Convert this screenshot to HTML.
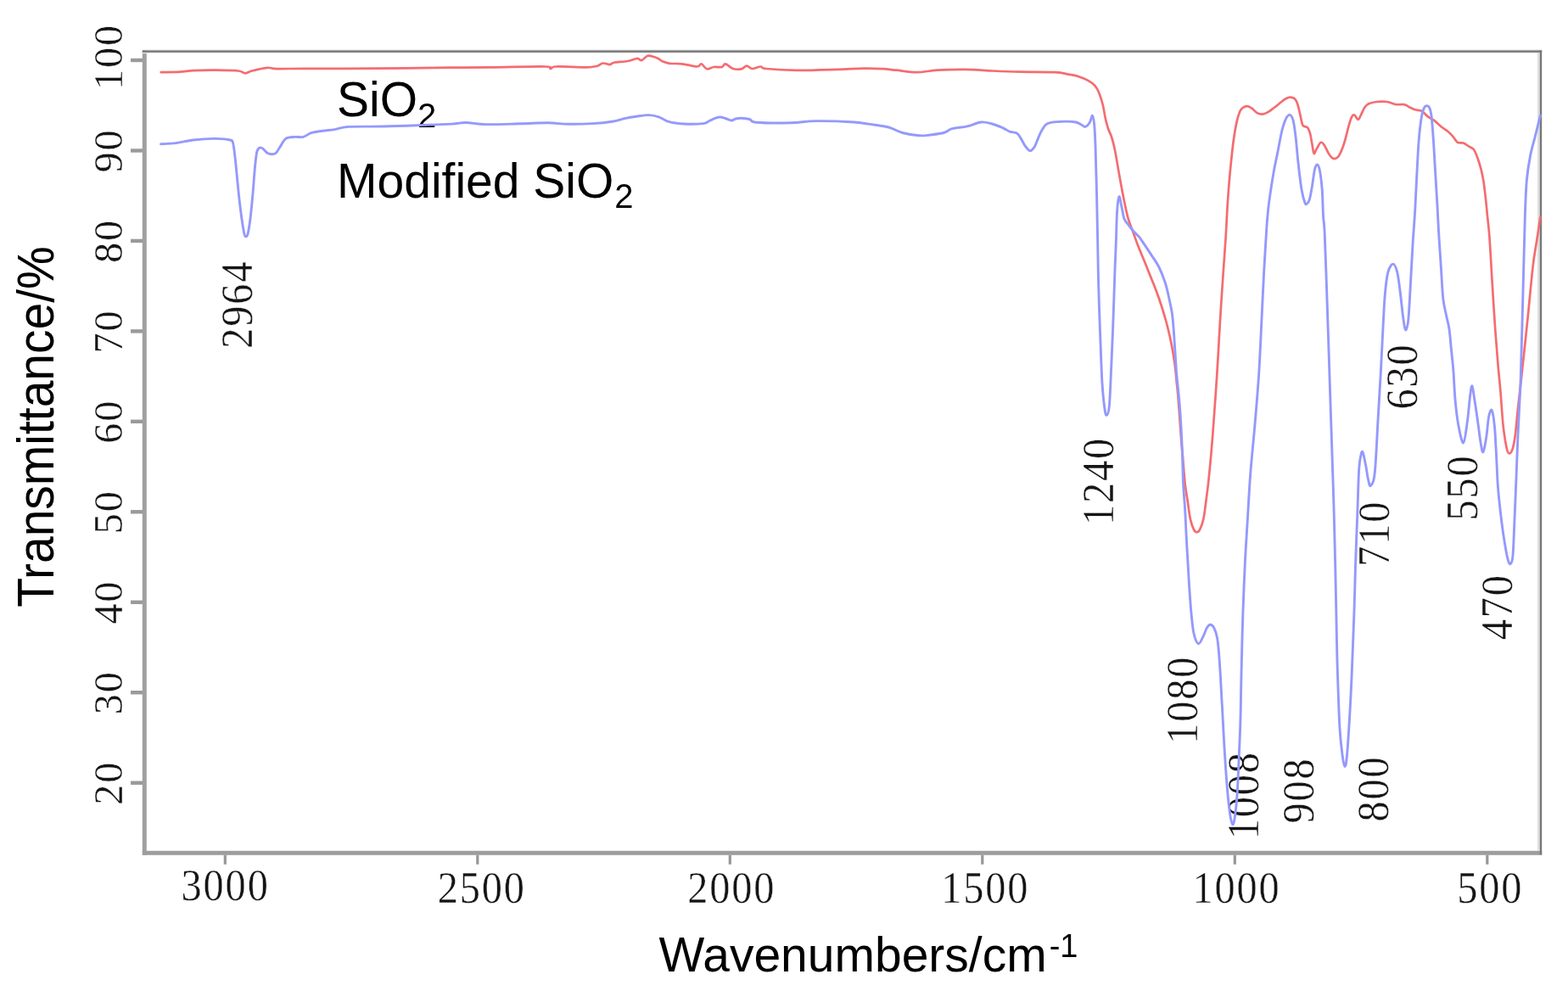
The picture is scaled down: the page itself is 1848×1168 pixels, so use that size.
<!DOCTYPE html>
<html><head><meta charset="utf-8"><title>FTIR spectra</title>
<style>html,body{margin:0;padding:0;background:#fff;}svg{display:block;}</style>
</head><body>
<svg width="1848" height="1168" viewBox="0 0 1848 1168"><style>.d{font-family:'Liberation Serif','Times New Roman',serif;fill:#151515;font-size:52px;text-anchor:middle;stroke:#fff;stroke-width:0.4px;letter-spacing:2.0px;}.s{font-family:'Liberation Sans',Arial,sans-serif;}</style><rect width="1848" height="1168" fill="#fff"/><g><rect x="167.8" y="59.5" width="5" height="948.2" fill="#a0a0a0"/>
<rect x="167.8" y="1002.8" width="1649.4" height="5" fill="#9d9d9d"/>
<rect x="167.8" y="58.3" width="1649.4" height="1.2" fill="#e6e6e6"/>
<rect x="167.8" y="59.4" width="1649.4" height="2.5" fill="#767676"/>
<rect x="167.8" y="61.9" width="1644" height="1.2" fill="#ececec"/>
<rect x="1812" y="61.9" width="2.9" height="940.9" fill="#dedede"/>
<rect x="1814.8" y="59.4" width="2.4" height="948" fill="#777"/>
<rect x="154" y="920.5" width="14" height="4.4" fill="#9a9a9a"/>
<text transform="translate(143.6,922.7) rotate(-90) scale(0.93,0.925)" class="d">20</text>
<rect x="154" y="814.0" width="14" height="4.4" fill="#9a9a9a"/>
<text transform="translate(143.6,816.2) rotate(-90) scale(0.93,0.925)" class="d">30</text>
<rect x="154" y="707.6" width="14" height="4.4" fill="#9a9a9a"/>
<text transform="translate(143.6,709.8) rotate(-90) scale(0.93,0.925)" class="d">40</text>
<rect x="154" y="601.1" width="14" height="4.4" fill="#9a9a9a"/>
<text transform="translate(143.6,603.3) rotate(-90) scale(0.93,0.925)" class="d">50</text>
<rect x="154" y="494.6" width="14" height="4.4" fill="#9a9a9a"/>
<text transform="translate(143.6,496.8) rotate(-90) scale(0.93,0.925)" class="d">60</text>
<rect x="154" y="388.2" width="14" height="4.4" fill="#9a9a9a"/>
<text transform="translate(143.6,390.4) rotate(-90) scale(0.93,0.925)" class="d">70</text>
<rect x="154" y="281.7" width="14" height="4.4" fill="#9a9a9a"/>
<text transform="translate(143.6,283.9) rotate(-90) scale(0.93,0.925)" class="d">80</text>
<rect x="154" y="175.3" width="14" height="4.4" fill="#9a9a9a"/>
<text transform="translate(143.6,177.5) rotate(-90) scale(0.93,0.925)" class="d">90</text>
<rect x="154" y="68.8" width="14" height="4.4" fill="#9a9a9a"/>
<text transform="translate(143.6,67.0) rotate(-90) scale(0.93,0.925)" class="d">100</text>
<rect x="263.7" y="1007.8" width="3.2" height="11" fill="#979797"/>
<text transform="translate(265.6,1060.5) scale(0.93,1)" class="d">3000</text>
<rect x="561.2" y="1007.8" width="3.2" height="11" fill="#979797"/>
<text transform="translate(567.8,1063.5) scale(0.93,1)" class="d">2500</text>
<rect x="858.7" y="1007.8" width="3.2" height="11" fill="#979797"/>
<text transform="translate(862.3,1063.5) scale(0.93,1)" class="d">2000</text>
<rect x="1156.2" y="1007.8" width="3.2" height="11" fill="#979797"/>
<text transform="translate(1161.3,1063.5) scale(0.93,1)" class="d">1500</text>
<rect x="1453.7" y="1007.8" width="3.2" height="11" fill="#979797"/>
<text transform="translate(1457.5,1063.5) scale(0.93,1)" class="d">1000</text>
<rect x="1751.2" y="1007.8" width="3.2" height="11" fill="#979797"/>
<text transform="translate(1756.3,1063.5) scale(0.93,1)" class="d">500</text>
<text transform="translate(63,503) rotate(-90) scale(1,1.06)" text-anchor="middle" font-family="'Liberation Sans',Arial,sans-serif" font-size="57">Transmittance/%</text>
<text x="776.5" y="1145.3" font-family="'Liberation Sans',Arial,sans-serif" font-size="57">Wavenumbers/cm<tspan font-size="38" dx="3" dy="-17">-1</tspan></text>
<text x="397" y="137" font-family="'Liberation Sans',Arial,sans-serif" font-size="57">SiO<tspan font-size="40" dy="12.7">2</tspan></text>
<text x="397" y="233.3" font-family="'Liberation Sans',Arial,sans-serif" font-size="57">Modified SiO<tspan font-size="40" dx="1" dy="12">2</tspan></text>
<text transform="translate(296.7,358.7) rotate(-90) scale(0.93,1)" class="d">2964</text>
<text transform="translate(1311.7,567.0) rotate(-90) scale(0.93,1)" class="d">1240</text>
<text transform="translate(1411.4,824.7) rotate(-90) scale(0.93,1)" class="d">1080</text>
<text transform="translate(1482.9,937.2) rotate(-90) scale(0.93,1)" class="d">1008</text>
<text transform="translate(1548.3,931.5) rotate(-90) scale(0.93,1)" class="d">908</text>
<text transform="translate(1636.4,929.4) rotate(-90) scale(0.93,1)" class="d">800</text>
<text transform="translate(1637.2,628.8) rotate(-90) scale(0.93,1)" class="d">710</text>
<text transform="translate(1670.2,443.5) rotate(-90) scale(0.93,1)" class="d">630</text>
<text transform="translate(1741.3,574.4) rotate(-90) scale(0.93,1)" class="d">550</text>
<text transform="translate(1782.0,715.2) rotate(-90) scale(0.93,1)" class="d">470</text>
<path d="M189.7,85.2 C193.5,85.1 206.0,85.1 212.5,84.7 C219.0,84.3 221.9,83.4 228.7,83.1 C235.4,82.8 244.3,82.6 253.0,82.7 C261.6,82.8 274.6,82.9 280.6,83.5 C286.6,84.1 286.1,86.3 288.8,86.3 C291.5,86.3 292.6,84.6 296.9,83.5 C301.2,82.4 309.8,80.2 314.7,79.8 C319.6,79.4 318.8,80.9 326.1,81.1 C333.4,81.3 345.1,80.8 358.6,80.8 C372.1,80.8 387.1,80.9 407.3,80.8 C427.5,80.7 459.8,80.6 480.0,80.4 C500.2,80.2 512.5,79.9 528.7,79.7 C544.9,79.5 558.5,79.6 577.4,79.4 C596.3,79.2 630.4,78.2 642.3,78.5 C654.2,78.8 646.6,81.0 648.8,81.0 C651.0,81.0 648.3,78.8 655.3,78.5 C662.3,78.2 682.9,79.5 691.0,79.4 C699.1,79.3 700.8,78.5 704.0,77.7 C707.2,76.9 708.1,74.8 710.5,74.5 C712.9,74.2 716.4,76.2 718.6,76.1 C720.8,76.0 720.0,74.4 723.5,73.7 C727.0,73.0 735.1,72.8 739.7,72.0 C744.3,71.2 748.4,68.9 751.1,68.8 C753.8,68.7 754.0,71.7 756.0,71.2 C758.0,70.7 761.0,66.5 763.3,65.8 C765.6,65.1 767.9,66.2 770.0,66.8 C772.1,67.4 774.4,68.3 776.2,69.3 C778.1,70.2 778.9,71.6 781.1,72.5 C783.3,73.4 785.4,74.3 789.2,74.8 C793.0,75.3 798.4,74.7 803.8,75.3 C809.2,75.9 817.9,78.5 821.7,78.5 C825.5,78.5 824.7,74.8 826.6,75.3 C828.5,75.8 830.7,80.7 833.1,81.3 C835.5,81.9 838.2,79.4 841.2,79.0 C844.2,78.6 848.6,79.6 850.9,79.0 C853.2,78.4 852.8,75.0 855.0,75.3 C857.2,75.6 860.8,80.0 863.9,81.0 C867.0,82.0 870.9,81.8 873.6,81.3 C876.3,80.8 877.9,77.8 880.1,77.7 C882.3,77.7 883.9,80.9 886.6,81.0 C889.3,81.1 893.7,78.5 896.4,78.5 C899.1,78.5 895.9,80.3 902.9,81.0 C909.9,81.7 924.5,82.8 938.6,82.9 C952.7,83.0 973.8,82.2 987.3,81.8 C1000.8,81.4 1010.9,80.7 1019.7,80.6 C1028.5,80.5 1033.9,80.8 1040.0,81.1 C1046.1,81.4 1049.4,82.0 1056.2,82.7 C1063.0,83.4 1072.5,85.2 1080.6,85.2 C1088.7,85.2 1095.4,83.2 1104.9,82.7 C1114.4,82.2 1126.6,81.8 1137.4,81.9 C1148.2,82.0 1159.1,83.0 1169.9,83.5 C1180.7,84.0 1190.1,84.4 1202.3,84.7 C1214.5,85.0 1233.4,84.7 1242.9,85.2 C1252.4,85.7 1254.7,86.8 1259.2,87.6 C1263.7,88.4 1266.2,88.6 1270.0,89.8 C1273.8,91.0 1278.9,93.0 1282.3,94.9 C1285.7,96.8 1288.4,98.5 1290.6,101.1 C1292.8,103.7 1294.2,106.6 1295.7,110.4 C1297.2,114.2 1298.6,118.8 1299.8,123.7 C1301.0,128.6 1301.9,135.4 1302.9,140.0 C1303.9,144.6 1304.8,147.9 1306.0,151.5 C1307.2,155.1 1308.7,157.1 1310.1,161.5 C1311.5,165.9 1312.7,170.4 1314.2,178.0 C1315.7,185.6 1317.6,197.6 1319.3,207.0 C1321.0,216.4 1322.8,226.3 1324.5,234.7 C1326.2,243.1 1327.7,250.7 1329.6,257.3 C1331.5,263.9 1333.9,269.2 1335.8,274.5 C1337.7,279.8 1339.0,283.8 1341.0,289.0 C1343.0,294.2 1345.6,300.2 1348.0,306.0 C1350.4,311.8 1352.8,318.0 1355.2,324.0 C1357.6,330.0 1360.2,336.0 1362.4,342.0 C1364.7,348.0 1366.8,354.0 1368.7,360.0 C1370.7,366.0 1372.4,372.0 1374.1,378.0 C1375.8,384.0 1377.2,390.0 1378.6,396.0 C1379.9,402.0 1381.2,408.0 1382.2,414.0 C1383.2,420.0 1384.2,426.0 1384.9,432.0 C1385.7,438.0 1386.1,444.0 1386.7,450.0 C1387.3,456.0 1387.9,460.5 1388.5,468.0 C1389.1,475.5 1389.9,486.3 1390.5,495.0 C1391.1,503.7 1391.7,512.5 1392.3,520.0 C1392.9,527.5 1393.4,531.5 1394.1,540.0 C1394.8,548.5 1395.8,562.2 1396.7,570.8 C1397.7,579.3 1398.8,584.4 1399.8,591.3 C1400.8,598.1 1401.7,606.4 1402.9,611.9 C1404.1,617.4 1405.7,621.6 1407.0,624.2 C1408.3,626.8 1409.4,627.3 1410.6,627.3 C1411.8,627.3 1412.8,626.8 1414.1,624.2 C1415.4,621.6 1417.1,617.4 1418.3,611.9 C1419.5,606.4 1420.4,598.1 1421.3,591.3 C1422.2,584.4 1423.0,578.5 1423.9,570.8 C1424.8,563.1 1425.5,555.6 1426.5,545.1 C1427.5,534.6 1428.3,525.0 1429.6,508.0 C1430.9,491.0 1432.8,464.6 1434.2,442.9 C1435.6,421.2 1436.7,399.4 1438.0,377.7 C1439.3,356.0 1441.2,328.9 1442.3,312.6 C1443.4,296.3 1443.8,292.3 1444.6,280.0 C1445.4,267.7 1446.0,252.0 1446.9,238.7 C1447.8,225.4 1448.8,212.5 1450.0,200.2 C1451.2,187.9 1452.6,174.2 1453.9,164.7 C1455.2,155.2 1456.4,148.8 1457.7,143.1 C1459.0,137.4 1460.4,133.5 1461.6,130.8 C1462.8,128.1 1463.3,128.0 1464.7,127.0 C1466.1,126.0 1468.2,125.0 1470.0,125.1 C1471.8,125.2 1473.5,126.4 1475.4,127.7 C1477.3,129.0 1479.5,131.9 1481.6,133.1 C1483.7,134.3 1485.8,134.8 1487.8,134.7 C1489.8,134.6 1491.6,133.7 1493.9,132.4 C1496.2,131.1 1499.0,128.9 1501.6,127.0 C1504.2,125.1 1507.0,122.6 1509.3,120.8 C1511.6,119.0 1513.6,117.2 1515.5,116.2 C1517.4,115.2 1519.1,114.5 1520.9,114.6 C1522.7,114.7 1524.9,115.5 1526.3,116.9 C1527.7,118.3 1528.4,120.0 1529.4,123.1 C1530.4,126.2 1531.4,131.3 1532.4,135.4 C1533.4,139.5 1534.1,145.4 1535.5,147.8 C1536.9,150.2 1539.5,148.6 1540.9,150.1 C1542.3,151.6 1543.1,153.8 1544.0,157.0 C1544.9,160.2 1545.5,165.3 1546.3,169.3 C1547.1,173.3 1547.7,179.9 1548.6,180.9 C1549.5,181.9 1550.3,177.7 1551.7,175.5 C1553.1,173.3 1555.2,168.3 1556.9,167.8 C1558.6,167.3 1560.2,170.4 1561.6,172.4 C1563.0,174.4 1564.1,177.9 1565.4,180.1 C1566.7,182.3 1568.0,184.3 1569.3,185.5 C1570.6,186.7 1571.7,187.3 1573.1,187.1 C1574.5,186.8 1576.2,186.2 1577.7,184.0 C1579.2,181.8 1581.0,177.7 1582.4,174.0 C1583.8,170.3 1585.1,165.7 1586.2,161.6 C1587.3,157.5 1588.2,153.3 1589.3,149.3 C1590.4,145.3 1591.9,140.1 1593.1,137.8 C1594.2,135.5 1594.9,134.9 1596.2,135.4 C1597.5,135.9 1599.4,141.1 1600.8,140.8 C1602.2,140.6 1603.4,136.3 1604.7,133.9 C1606.0,131.5 1607.2,128.1 1608.6,126.2 C1610.0,124.3 1610.9,123.3 1613.2,122.3 C1615.5,121.3 1618.8,120.4 1622.4,120.0 C1626.0,119.6 1630.9,119.5 1634.7,120.0 C1638.5,120.5 1642.2,122.6 1645.5,123.1 C1648.8,123.6 1652.2,122.6 1654.8,123.1 C1657.4,123.6 1658.8,125.2 1660.9,126.2 C1663.1,127.2 1665.3,128.5 1667.7,129.3 C1670.1,130.1 1672.8,129.4 1675.4,130.8 C1678.0,132.2 1680.5,135.8 1683.1,137.7 C1685.7,139.6 1688.2,140.5 1690.8,142.4 C1693.4,144.3 1695.9,147.2 1698.5,149.3 C1701.1,151.4 1703.9,152.8 1706.2,154.7 C1708.5,156.6 1710.5,158.6 1712.4,160.8 C1714.3,163.0 1715.8,166.5 1717.8,167.8 C1719.8,169.1 1722.5,167.8 1724.7,168.6 C1726.9,169.4 1728.9,171.1 1730.9,172.4 C1733.0,173.7 1735.2,173.9 1737.0,176.3 C1738.8,178.7 1740.3,183.2 1741.7,187.0 C1743.1,190.8 1744.3,194.8 1745.5,199.4 C1746.7,204.0 1747.7,209.2 1748.6,214.8 C1749.5,220.5 1750.1,226.4 1750.9,233.3 C1751.7,240.2 1752.4,248.6 1753.2,256.4 C1754.0,264.2 1754.6,267.7 1755.5,280.0 C1756.4,292.3 1757.4,312.5 1758.5,330.0 C1759.6,347.5 1760.8,368.3 1762.0,385.0 C1763.2,401.7 1764.4,417.2 1765.5,430.0 C1766.6,442.8 1767.5,450.1 1768.5,462.0 C1769.5,473.9 1770.4,490.6 1771.6,501.6 C1772.8,512.6 1774.5,522.8 1775.7,528.3 C1776.9,533.8 1777.5,534.5 1778.7,534.5 C1779.9,534.5 1781.7,532.1 1782.9,528.3 C1784.1,524.5 1784.9,519.8 1785.9,511.9 C1786.9,504.0 1787.9,491.4 1789.0,481.1 C1790.1,470.8 1790.5,468.4 1792.5,450.3 C1794.5,432.2 1798.5,395.1 1800.8,372.4 C1803.1,349.7 1804.9,328.7 1806.6,314.1 C1808.3,299.5 1809.5,294.6 1811.0,284.9 C1812.5,275.2 1814.7,260.6 1815.4,255.8" fill="none" stroke="#f46c70" stroke-width="2.7" stroke-linejoin="round" stroke-linecap="round"/>
<path d="M189.6,169.8 C192.6,169.6 201.2,169.4 207.6,168.6 C214.0,167.8 220.5,165.9 227.9,165.0 C235.3,164.1 244.7,163.4 251.9,163.4 C259.1,163.4 267.3,164.0 271.1,165.0 C274.9,166.0 273.7,165.7 274.7,169.2 C275.7,172.7 276.3,179.2 277.1,186.0 C277.9,192.8 278.7,201.9 279.5,209.9 C280.3,217.9 281.0,225.9 281.9,233.9 C282.8,241.9 283.9,250.8 284.9,257.8 C285.9,264.8 287.1,272.3 287.9,275.8 C288.7,279.3 288.9,278.8 289.6,278.8 C290.3,278.8 291.1,279.3 292.0,275.8 C292.9,272.3 294.0,265.8 295.0,257.8 C296.0,249.8 297.1,237.9 298.0,227.9 C298.9,217.9 299.6,206.1 300.4,197.9 C301.2,189.7 301.8,182.8 302.8,178.8 C303.8,174.8 305.1,174.5 306.4,174.0 C307.7,173.5 309.1,174.7 310.6,175.8 C312.1,176.9 313.7,179.6 315.4,180.6 C317.1,181.6 319.1,181.9 320.8,181.8 C322.5,181.7 323.9,181.7 325.6,180.0 C327.3,178.3 329.1,174.4 331.0,171.6 C332.9,168.8 334.2,164.9 337.0,163.2 C339.8,161.5 344.4,161.7 347.8,161.4 C351.2,161.1 354.2,162.2 357.4,161.4 C360.6,160.6 363.1,157.8 366.9,156.6 C370.7,155.4 375.4,155.0 380.0,154.3 C384.6,153.6 389.3,153.4 394.4,152.6 C399.5,151.8 401.1,150.0 410.6,149.4 C420.1,148.8 437.7,149.3 451.2,149.0 C464.7,148.7 478.3,148.2 491.8,147.7 C505.3,147.2 522.8,146.6 532.3,146.1 C541.8,145.6 541.8,144.4 548.6,144.5 C555.4,144.6 562.1,146.4 572.9,146.6 C583.7,146.8 601.3,146.1 613.5,145.8 C625.7,145.5 636.6,144.7 646.0,144.8 C655.4,144.9 661.3,146.2 670.0,146.3 C678.7,146.4 689.8,146.1 698.4,145.6 C707.0,145.1 715.3,144.2 721.8,143.2 C728.3,142.1 732.7,140.3 737.4,139.3 C742.1,138.3 745.5,137.8 750.0,137.2 C754.5,136.6 760.3,135.5 764.7,135.6 C769.1,135.7 772.5,136.5 776.4,137.8 C780.3,139.1 783.2,142.0 788.1,143.4 C793.0,144.8 798.8,145.6 805.6,146.0 C812.4,146.4 823.9,146.2 829.0,145.6 C834.1,145.0 833.7,143.5 836.0,142.5 C838.3,141.5 840.5,140.2 842.6,139.4 C844.7,138.7 846.4,138.0 848.5,138.0 C850.6,138.0 852.7,138.8 855.0,139.5 C857.3,140.2 860.1,141.9 862.1,142.0 C864.1,142.1 865.0,140.5 867.0,140.0 C869.0,139.5 871.0,139.1 873.8,139.2 C876.5,139.3 880.6,139.7 883.5,140.5 C886.4,141.3 883.2,143.5 891.3,144.2 C899.4,144.9 920.5,145.1 932.2,144.8 C943.9,144.5 949.0,142.7 961.4,142.6 C973.8,142.5 995.2,143.2 1006.8,144.0 C1018.4,144.8 1024.4,146.3 1031.2,147.3 C1038.0,148.3 1042.0,148.5 1047.4,150.0 C1052.8,151.5 1057.6,154.9 1063.6,156.5 C1069.5,158.1 1077.7,159.4 1083.1,159.8 C1088.5,160.2 1091.2,159.6 1096.1,159.0 C1101.0,158.4 1108.0,157.7 1112.3,156.5 C1116.6,155.3 1117.5,153.0 1122.1,151.7 C1126.7,150.4 1134.2,150.2 1139.9,148.9 C1145.6,147.6 1151.3,144.5 1156.2,144.0 C1161.1,143.5 1164.9,144.9 1169.2,146.0 C1173.5,147.1 1178.6,149.3 1182.1,150.8 C1185.6,152.3 1187.3,154.1 1190.0,155.1 C1192.7,156.1 1196.2,155.7 1198.4,157.0 C1200.6,158.3 1201.4,160.4 1203.0,162.9 C1204.6,165.4 1206.4,169.5 1208.2,172.0 C1210.0,174.5 1212.2,177.6 1214.0,177.8 C1215.8,178.0 1217.8,175.2 1219.2,173.2 C1220.6,171.1 1221.3,168.3 1222.5,165.5 C1223.7,162.7 1224.8,159.4 1226.4,156.4 C1228.0,153.4 1230.2,149.3 1232.2,147.3 C1234.2,145.3 1234.9,145.1 1238.7,144.4 C1242.5,143.7 1250.0,143.2 1254.9,143.1 C1259.8,143.0 1264.7,143.3 1267.9,144.0 C1271.2,144.7 1272.5,146.1 1274.4,147.0 C1276.3,147.9 1277.5,149.8 1279.2,149.4 C1280.9,149.0 1283.0,146.5 1284.4,144.3 C1285.8,142.1 1286.6,135.9 1287.5,136.2 C1288.4,136.5 1289.0,141.1 1289.6,146.0 C1290.1,150.9 1290.4,156.5 1290.8,165.5 C1291.2,174.5 1291.5,189.2 1291.8,200.0 C1292.1,210.8 1292.3,216.7 1292.6,230.0 C1292.9,243.3 1293.2,262.2 1293.6,280.0 C1293.9,297.8 1294.2,317.7 1294.7,336.6 C1295.2,355.5 1295.9,374.3 1296.6,393.2 C1297.3,412.1 1298.1,435.3 1298.9,449.8 C1299.8,464.3 1300.8,473.4 1301.7,480.0 C1302.6,486.6 1303.2,489.7 1304.2,489.4 C1305.2,489.1 1306.5,487.9 1307.4,478.1 C1308.3,468.4 1309.0,448.2 1309.8,430.9 C1310.6,413.6 1311.4,393.2 1312.1,374.3 C1312.8,355.4 1313.4,333.4 1314.0,317.7 C1314.6,302.0 1315.1,291.5 1315.5,280.0 C1315.9,268.5 1316.0,256.8 1316.6,248.7 C1317.2,240.6 1318.0,232.5 1318.9,231.7 C1319.8,230.9 1321.0,239.6 1322.0,244.0 C1323.0,248.4 1323.6,254.3 1325.0,257.9 C1326.4,261.5 1328.5,263.0 1330.4,265.6 C1332.3,268.2 1334.5,271.0 1336.6,273.3 C1338.7,275.6 1341.2,277.6 1342.8,279.5 C1344.4,281.4 1343.8,280.9 1346.2,284.4 C1348.6,287.9 1353.7,295.5 1357.0,300.6 C1360.3,305.7 1363.3,309.6 1366.0,315.0 C1368.7,320.4 1371.2,327.0 1373.2,333.0 C1375.2,339.0 1376.4,345.0 1377.7,351.0 C1379.0,357.0 1380.4,363.0 1381.3,369.0 C1382.2,375.0 1382.5,379.5 1383.1,387.0 C1383.7,394.5 1384.3,405.0 1384.9,414.0 C1385.5,423.0 1386.0,432.0 1386.7,441.0 C1387.5,450.0 1388.7,459.8 1389.4,468.0 C1390.2,476.2 1390.7,482.2 1391.2,490.0 C1391.7,497.8 1392.2,506.7 1392.6,515.0 C1393.0,523.3 1393.3,530.7 1393.6,540.0 C1393.9,549.3 1394.1,560.5 1394.6,570.8 C1395.1,581.1 1396.1,591.3 1396.7,601.6 C1397.3,611.9 1397.7,622.7 1398.2,632.4 C1398.7,642.1 1399.2,650.2 1399.8,659.9 C1400.4,669.6 1400.9,680.5 1401.6,690.8 C1402.3,701.1 1403.0,712.4 1403.9,721.6 C1404.8,730.9 1405.5,740.1 1406.9,746.3 C1408.3,752.5 1410.5,757.8 1412.3,758.6 C1414.1,759.4 1416.0,754.0 1417.7,750.9 C1419.4,747.8 1420.9,742.5 1422.4,740.1 C1423.9,737.7 1425.1,736.3 1426.5,736.3 C1427.9,736.3 1429.4,737.4 1430.8,740.1 C1432.2,742.8 1433.7,746.5 1434.7,752.4 C1435.7,758.3 1436.4,767.9 1437.0,775.6 C1437.6,783.3 1437.9,788.0 1438.5,798.7 C1439.1,809.4 1440.0,826.3 1440.8,840.0 C1441.5,853.7 1442.2,867.3 1443.0,881.0 C1443.8,894.7 1444.8,909.6 1445.8,922.2 C1446.8,934.8 1448.1,948.2 1449.2,956.4 C1450.3,964.6 1451.6,970.4 1452.6,971.5 C1453.6,972.6 1454.4,969.2 1455.3,963.3 C1456.2,957.4 1457.3,947.3 1458.1,935.9 C1458.9,924.5 1459.5,908.5 1460.1,894.8 C1460.7,881.1 1461.3,869.5 1461.8,853.7 C1462.3,837.9 1462.5,816.9 1462.9,800.0 C1463.3,783.1 1463.6,768.0 1464.0,752.4 C1464.4,736.8 1464.9,721.6 1465.5,706.2 C1466.1,690.8 1466.7,676.0 1467.5,660.0 C1468.3,644.0 1469.5,626.7 1470.5,610.0 C1471.5,593.3 1472.3,577.2 1473.6,559.8 C1474.9,542.4 1476.8,525.0 1478.5,505.7 C1480.2,486.4 1482.1,464.4 1483.5,443.7 C1484.9,423.0 1485.7,402.4 1486.7,381.7 C1487.7,361.0 1488.7,338.2 1489.7,319.6 C1490.7,301.0 1491.9,282.2 1492.7,270.0 C1493.5,257.8 1493.9,254.2 1494.7,246.4 C1495.5,238.6 1496.7,231.0 1497.8,223.3 C1498.9,215.6 1500.2,207.9 1501.6,200.2 C1503.0,192.5 1504.8,184.7 1506.3,177.0 C1507.8,169.3 1509.4,160.1 1510.9,153.9 C1512.4,147.8 1514.0,143.2 1515.5,140.1 C1517.0,137.0 1518.7,135.2 1520.1,135.4 C1521.5,135.7 1522.8,137.2 1524.0,141.6 C1525.2,146.0 1526.1,153.1 1527.1,161.6 C1528.1,170.1 1528.9,182.1 1530.1,192.4 C1531.2,202.7 1532.7,215.6 1534.0,223.3 C1535.3,231.0 1536.8,235.9 1537.8,238.7 C1538.8,241.5 1539.3,240.7 1540.2,240.2 C1541.1,239.7 1542.2,238.9 1543.2,235.6 C1544.2,232.3 1545.3,226.1 1546.3,220.2 C1547.3,214.3 1548.4,204.6 1549.4,200.2 C1550.4,195.8 1551.5,193.8 1552.5,194.0 C1553.5,194.2 1554.6,196.8 1555.6,201.7 C1556.5,206.6 1557.5,214.6 1558.2,223.3 C1558.9,232.0 1559.0,245.5 1559.5,254.1 C1560.0,262.7 1560.5,259.9 1561.2,275.0 C1561.9,290.1 1562.9,320.4 1563.7,344.4 C1564.5,368.4 1565.4,394.1 1566.2,418.9 C1567.0,443.7 1567.8,469.8 1568.6,493.3 C1569.4,516.8 1570.2,541.2 1570.8,559.8 C1571.4,578.4 1571.7,586.6 1572.2,605.0 C1572.7,623.4 1573.3,649.3 1573.8,670.1 C1574.3,690.9 1574.6,710.2 1575.0,730.0 C1575.4,749.8 1575.6,767.4 1576.3,788.6 C1577.0,809.8 1577.9,840.1 1578.9,857.2 C1579.9,874.4 1581.3,883.8 1582.3,891.5 C1583.3,899.2 1584.1,903.5 1584.9,903.5 C1585.8,903.5 1586.4,902.1 1587.4,891.5 C1588.4,880.9 1589.9,857.2 1590.9,840.1 C1591.9,823.0 1592.6,808.6 1593.4,788.6 C1594.2,768.6 1595.3,739.8 1596.0,720.0 C1596.7,700.2 1596.8,689.3 1597.4,670.1 C1598.0,650.9 1599.1,624.0 1599.8,605.0 C1600.5,586.0 1600.9,567.5 1601.5,556.3 C1602.1,545.1 1602.8,541.9 1603.6,538.0 C1604.3,534.1 1605.0,531.0 1606.0,532.7 C1607.0,534.4 1608.5,542.9 1609.6,548.3 C1610.7,553.7 1611.5,561.0 1612.5,565.0 C1613.5,569.0 1614.0,573.7 1615.3,572.5 C1616.6,571.3 1618.8,570.8 1620.2,558.0 C1621.7,545.2 1622.8,516.0 1624.0,495.6 C1625.2,475.2 1626.5,453.7 1627.5,435.7 C1628.5,417.7 1629.1,402.6 1629.9,387.8 C1630.7,373.0 1631.3,358.3 1632.3,347.1 C1633.3,335.9 1634.3,326.7 1635.9,320.7 C1637.5,314.7 1640.1,311.1 1641.9,311.1 C1643.7,311.1 1645.3,315.1 1646.7,320.7 C1648.1,326.3 1649.1,335.5 1650.3,344.7 C1651.5,353.9 1652.8,368.4 1653.9,375.8 C1655.0,383.2 1655.8,389.0 1656.8,389.0 C1657.8,389.0 1658.9,386.0 1659.9,375.8 C1660.9,365.6 1661.9,343.0 1662.8,327.9 C1663.7,312.8 1664.4,298.2 1665.2,285.0 C1666.0,271.8 1666.9,262.5 1667.7,248.7 C1668.5,234.9 1669.2,216.5 1670.0,202.4 C1670.8,188.3 1671.4,174.7 1672.3,163.9 C1673.2,153.1 1674.4,143.8 1675.4,137.7 C1676.4,131.5 1677.5,129.2 1678.5,127.0 C1679.5,124.8 1680.6,124.6 1681.6,124.6 C1682.6,124.6 1683.8,125.1 1684.7,127.0 C1685.6,128.9 1686.2,130.0 1687.0,136.2 C1687.8,142.3 1688.5,152.9 1689.3,163.9 C1690.1,174.9 1690.8,189.6 1691.6,202.4 C1692.4,215.2 1693.2,228.1 1693.9,241.0 C1694.6,253.9 1695.2,267.5 1696.0,280.0 C1696.8,292.5 1697.6,303.9 1698.4,315.9 C1699.2,327.9 1699.8,342.7 1700.8,351.9 C1701.8,361.1 1703.2,365.0 1704.4,371.0 C1705.6,377.0 1707.0,381.0 1708.0,387.8 C1709.0,394.6 1709.6,403.7 1710.4,411.7 C1711.2,419.7 1712.0,425.7 1712.8,435.7 C1713.6,445.7 1714.1,460.8 1715.1,471.6 C1716.1,482.4 1717.1,492.0 1718.7,500.4 C1720.3,508.8 1722.9,522.7 1724.7,521.9 C1726.5,521.1 1728.2,504.8 1729.5,495.6 C1730.8,486.4 1731.7,473.6 1732.6,466.8 C1733.5,460.0 1734.1,454.1 1735.0,454.9 C1735.9,455.7 1736.8,464.8 1737.9,471.6 C1739.0,478.4 1740.3,487.2 1741.5,495.6 C1742.7,504.0 1744.0,515.7 1745.1,521.9 C1746.2,528.1 1746.9,533.9 1748.0,532.7 C1749.1,531.5 1750.7,521.7 1751.8,514.7 C1752.9,507.7 1753.6,496.0 1754.7,490.8 C1755.8,485.6 1757.2,481.6 1758.3,483.6 C1759.4,485.6 1760.7,494.9 1761.5,503.0 C1762.3,511.1 1762.6,520.6 1763.3,532.4 C1764.0,544.1 1764.5,561.5 1765.4,573.5 C1766.3,585.5 1767.3,594.0 1768.5,604.3 C1769.7,614.6 1771.2,626.2 1772.6,635.1 C1774.0,644.0 1775.5,652.8 1776.7,657.7 C1777.9,662.7 1778.8,665.1 1779.8,664.8 C1780.8,664.4 1782.1,664.0 1782.9,655.6 C1783.8,647.2 1784.2,629.9 1784.9,614.5 C1785.6,599.1 1786.3,580.3 1787.0,563.2 C1787.7,546.1 1788.3,527.3 1789.0,511.9 C1789.7,496.5 1790.5,482.8 1791.1,470.8 C1791.7,458.8 1791.8,461.3 1792.4,440.0 C1793.1,418.7 1794.2,373.9 1795.0,343.2 C1795.8,312.5 1796.6,277.7 1797.3,255.8 C1798.0,233.9 1798.3,224.2 1799.4,212.0 C1800.5,199.8 1802.0,191.6 1803.7,182.9 C1805.4,174.2 1807.6,167.4 1809.6,159.6 C1811.5,151.8 1814.4,140.1 1815.4,136.2" fill="none" stroke="#9499fc" stroke-width="2.9" stroke-linejoin="round" stroke-linecap="round"/></g></svg>
</body></html>
